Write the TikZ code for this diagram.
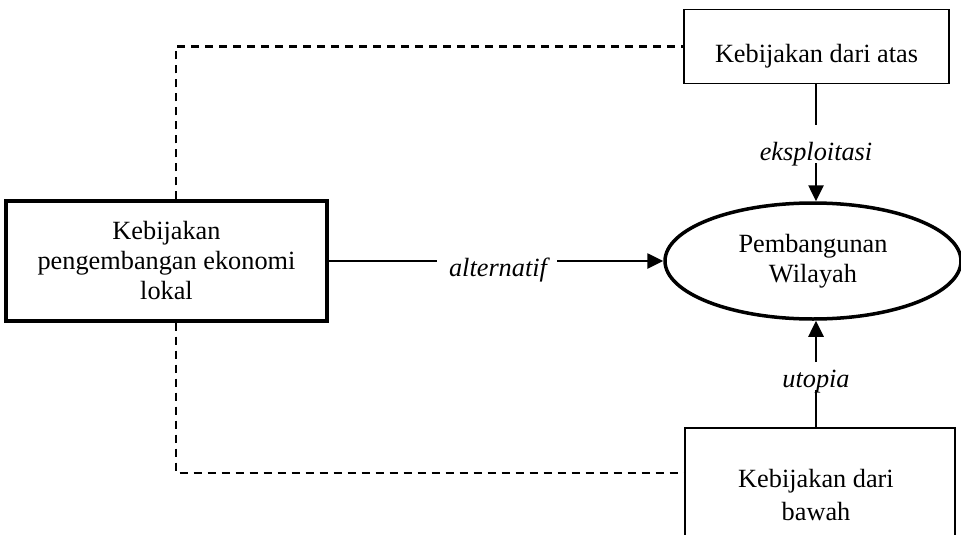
\documentclass[tikz,border=0pt]{standalone}
\usepackage{fontspec}
\setmainfont{Liberation Serif}
\usetikzlibrary{arrows.meta,shapes.geometric}
\begin{document}
\begin{tikzpicture}[x=1pt,y=-1pt,
  txt/.style={font=\fontsize{26.3}{30}\selectfont, align=center, inner sep=0pt},
  lbl/.style={font=\fontsize{26.3}{30}\selectfont\itshape, inner sep=0pt, anchor=base},
  thinln/.style={line width=1.4pt},
  arr/.style={line width=2.6pt, -{Triangle[length=16pt,width=15pt]}},
  dashln/.style={line width=2.2pt, dash pattern=on 8pt off 6pt}]
\useasboundingbox (0,0) rectangle (961,535);
\clip (0,0) rectangle (961,535);
% boxes
\node[draw, line width=1.7pt, minimum width=265pt, minimum height=74pt, inner sep=0pt] (top) at (816.5,46.5) {};
\node[txt, anchor=base] (toptxt) at (816.5,63) {Kebijakan dari atas};
\node[draw, line width=3.4pt, minimum width=321pt, minimum height=120pt, txt] (left) at (166.5,261) {Kebijakan\\pengembangan ekonomi\\lokal};
\node[draw, ellipse, line width=3.5pt, minimum width=296pt, minimum height=116pt, txt] (ell) at (813,261) {Pembangunan\\Wilayah};
\node[draw, line width=1.7pt, minimum width=270pt, minimum height=140pt, inner sep=0pt] (bot) at (820,498) {};
\node[txt, anchor=base] (bottxt1) at (816,487) {Kebijakan dari};
\node[txt, anchor=base] (bottxt2) at (816,520) {bawah};
% labels
\node[lbl] (eks) at (816,160) {eksploitasi};
\node[lbl] (alt) at (498,276) {alternatif};
\node[lbl] (uto) at (816,387) {utopia};
% coordinates
\coordinate (dx) at (176,0);
\coordinate (bw) at (685,473);
\coordinate (t1) at (816,125);
\coordinate (t2) at (816,163);
\coordinate (b1) at (816,390);
\coordinate (b2) at (816,362);
\coordinate (a1) at (437,261);
\coordinate (a2) at (557,261);
% dashed connectors
\draw[dashln] (left.north -| dx) |- (top.west);
\draw[dashln] (left.south -| dx) |- (bw);
% solid connectors
\draw[thinln] (top.south -| t1) -- (t1);
\draw[arr] (t2) -- (t2 |- ell.north);
\draw[thinln] (left.east) -- (a1);
\draw[arr] (a2) -- (ell.west);
\draw[thinln] (bot.north -| b1) -- (b1);
\draw[arr] (b2) -- (b2 |- ell.south);
\end{tikzpicture}
\end{document}
